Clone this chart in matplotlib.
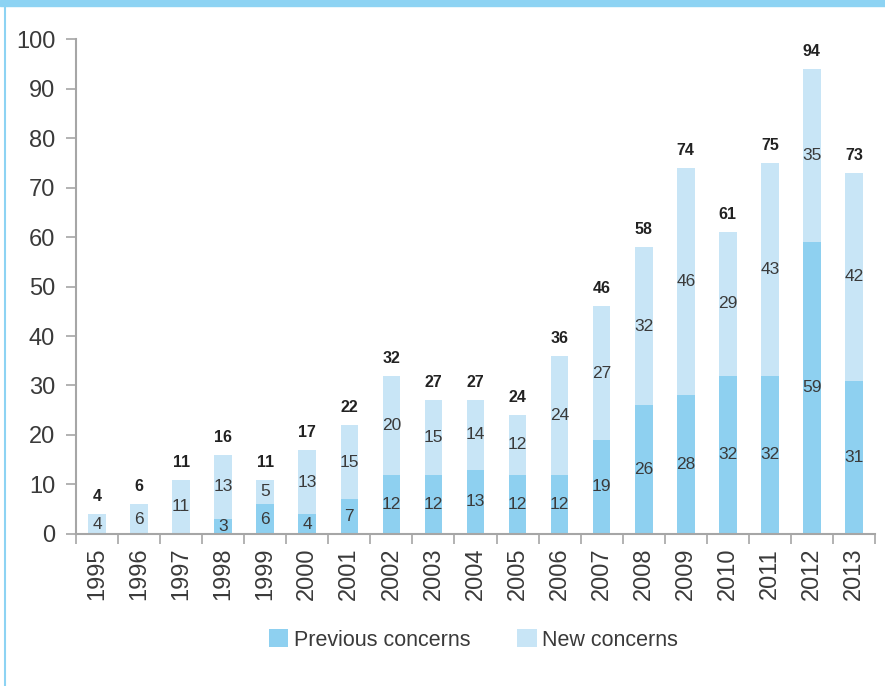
## --- CONCERNS PER YEAR --- ##
""" Stacked bars of previous and new concerns per year """

import matplotlib
matplotlib.use('Agg')
import matplotlib.pyplot as plt
from matplotlib.lines import Line2D
from matplotlib.patches import Rectangle
import numpy as np

# -- DATA -- #
years = ['1995', '1996', '1997', '1998', '1999', '2000', '2001', '2002', '2003', '2004',
         '2005', '2006', '2007', '2008', '2009', '2010', '2011', '2012', '2013']
previous = [0, 0, 0, 3, 6, 4, 7, 12, 12, 13, 12, 12, 19, 26, 28, 32, 32, 59, 31]
new = [4, 6, 11, 13, 5, 13, 15, 20, 15, 14, 12, 24, 27, 32, 46, 29, 43, 35, 42]

# -- STYLE -- #
c_prev = '#8ed0f0'
c_new = '#c8e5f6'
c_text = '#3a3a3a'
c_axis = '#a6a6a6'
plt.rcParams['font.family'] = ['Liberation Sans', 'DejaVu Sans']

fig = plt.figure(figsize=(8.85, 6.86), dpi=100)
ax = fig.add_axes([0.0859, 0.2216, 0.9028, 0.7215])

x = np.arange(len(years))
prev = np.array(previous)
nw = np.array(new)
total = prev + nw
width = 0.42

ax.bar(x, prev, width, color=c_prev, label='Previous concerns', zorder=2)
ax.bar(x, nw, width, bottom=prev, color=c_new, label='New concerns', zorder=2)

for i in range(len(years)):
    if prev[i] > 0:
        ax.text(x[i], prev[i] / 2.0, str(prev[i]), ha='center', va='center',
                fontsize=12.5, color=c_text, zorder=3)
    ax.text(x[i], prev[i] + nw[i] / 2.0, str(nw[i]), ha='center', va='center',
            fontsize=12.5, color=c_text, zorder=3)
    ax.text(x[i], total[i] + 2.0, str(total[i]), ha='center', va='bottom',
            fontsize=11.5, fontweight='bold', color='#222222', zorder=3)

# -- AXES -- #
ax.set_xlim(-0.5, len(years) - 0.5)
ax.set_ylim(0, 100)
ax.set_yticks(range(0, 101, 10))
ax.set_yticklabels([str(v) for v in range(0, 101, 10)], fontsize=17, color=c_text)
ax.set_xticks(np.arange(-0.5, len(years), 1.0))
ax.set_xticklabels([])
ax.set_xticks(x, minor=True)
ax.set_xticklabels(years, minor=True, rotation=90, fontsize=17, color=c_text)
ax.tick_params(axis='x', which='minor', length=0, pad=10)
ax.tick_params(axis='x', which='major', length=7, width=1.2, color=c_axis, direction='out')
ax.tick_params(axis='y', length=7, width=1.2, color=c_axis, direction='out', pad=8)
for side in ['top', 'right']:
    ax.spines[side].set_visible(False)
for side in ['left', 'bottom']:
    ax.spines[side].set_color(c_axis)
    ax.spines[side].set_linewidth(1.5)

# -- LEGEND -- #
fig.legend(loc='center', bbox_to_anchor=(0.535, 0.067), ncol=2, frameon=False,
           fontsize=15.5, handlelength=0.9, handleheight=0.9, handletextpad=0.25,
           columnspacing=2.2, labelcolor=c_text)

# -- FRAME -- #
fig.add_artist(Rectangle((0, 1 - 6 / 686.0), 1, 6 / 686.0, transform=fig.transFigure,
                         color='#8dd3f3', zorder=5))
fig.add_artist(Line2D([5 / 885.0, 5 / 885.0], [0, 1], transform=fig.transFigure,
                      color='#8dd3f3', linewidth=1.5))

fig.savefig('out.png', dpi=100)
